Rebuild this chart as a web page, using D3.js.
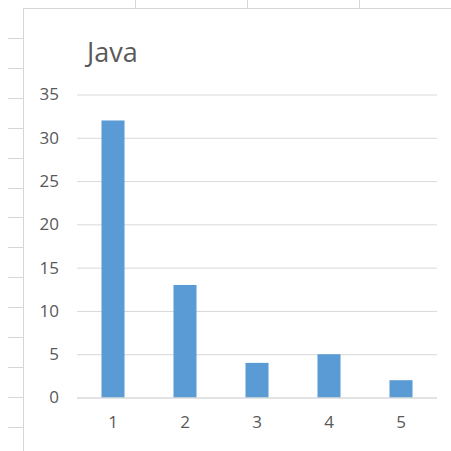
<!DOCTYPE html>
<html>
<head>
<meta charset="utf-8">
<script src="https://cdn.jsdelivr.net/npm/d3@7"></script>
<style>
  html, body { margin: 0; padding: 0; background: #fff; }
  svg { display: block; }
</style>
</head>
<body>
<svg id="chart" width="451" height="451"></svg>
<script>
// Java counts per category
const categories = ["1", "2", "3", "4", "5"];
const values = [32, 13, 4, 5, 2];
const yTicks = [0, 5, 10, 15, 20, 25, 30, 35];
const title = "Java";

const W = 451, H = 451;
const svg = d3.select("#chart");
const font = "'Open Sans', 'Noto Sans', sans-serif";

// Worksheet grid peeking around the chart area
const sheet = svg.append("g").attr("stroke", "#d6d6d6").attr("stroke-width", 1);
sheet.append("line").attr("x1", 23.5).attr("x2", 23.5).attr("y1", 8).attr("y2", H);
sheet.append("line").attr("x1", 23).attr("x2", W).attr("y1", 8.5).attr("y2", 8.5);
[135.5, 247.5, 359.5].forEach(x =>
  sheet.append("line").attr("x1", x).attr("x2", x).attr("y1", 0).attr("y2", 8));
d3.range(38, H, 29.9).forEach(y =>
  sheet.append("line").attr("x1", 8).attr("x2", 23).attr("y1", Math.round(y) + 0.5).attr("y2", Math.round(y) + 0.5));

// Plot area
const plotLeft = 77, plotRight = 437, plotTop = 94.5, plotBottom = 397.5;

const x = d3.scaleBand().domain(categories).range([plotLeft, plotRight]).paddingInner(0.68).paddingOuter(0.34);
const y = d3.scaleLinear().domain([0, 35]).range([plotBottom, plotTop]);

// Horizontal gridlines and value labels
const yAxis = d3.axisLeft(y).tickValues(yTicks).tickSize(-(plotRight - plotLeft)).tickPadding(18);
const gy = svg.append("g").attr("transform", `translate(${plotLeft},0)`).call(yAxis);
gy.select(".domain").remove();
gy.selectAll(".tick line").attr("stroke", "#d9d9d9");
gy.selectAll(".tick text")
  .attr("fill", "#595959").attr("font-family", font).attr("font-size", 17);

// Bars
svg.append("g").selectAll("rect").data(values).join("rect")
  .attr("x", (d, i) => x(categories[i]))
  .attr("width", x.bandwidth())
  .attr("y", d => y(d))
  .attr("height", d => y(0) - y(d))
  .attr("fill", "#5b9bd5");

// Category axis
const xAxis = d3.axisBottom(x).tickSize(0).tickPadding(18);
const gx = svg.append("g").attr("transform", `translate(0,${plotBottom})`).call(xAxis);
gx.select(".domain").attr("stroke", "#d9d9d9").attr("d", `M${plotLeft},0.5H${plotRight}`);
gx.selectAll(".tick text")
  .attr("fill", "#595959").attr("font-family", font).attr("font-size", 17);

// Title
svg.append("text")
  .attr("x", 87).attr("y", 62)
  .attr("fill", "#595959").attr("font-family", font).attr("font-size", 27)
  .text(title);
</script>
</body>
</html>
